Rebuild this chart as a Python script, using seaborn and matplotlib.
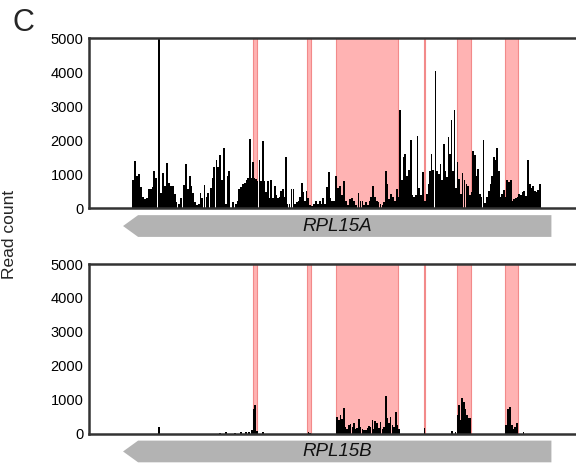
import matplotlib
matplotlib.use('Agg')
import matplotlib.pyplot as plt
import matplotlib.transforms as mtransforms
from matplotlib.patches import Polygon
import seaborn as sns

# Positions (relative coordinate along the locus) and read counts, RPL15A
pos_a = [44, 46, 48, 50, 52, 54, 56, 58, 60, 62, 63.5, 65, 67, 69.7, 71.7, 73.7, 75.7, 78, 79.7, 81.7,
         83.7, 85.7, 87, 89.7, 92, 94.7, 96.7, 98.7, 100.7, 102.3, 104, 105.7, 108, 109.7, 111.3, 113,
         115.3, 117.3, 119, 121.7, 123.3, 125, 127.3, 129, 131, 133, 134.7, 136.7, 138.3, 140, 144,
         146.5, 148.5, 150, 152, 154, 156, 157.7, 159, 161, 162.3, 163.7, 165, 166.7, 168.3, 170.3,
         171.7, 173.7, 175.3, 177, 178.7, 180, 182, 183.7, 185.7, 187, 188.7, 190.3, 192, 193.7, 195.3,
         196.7, 198.3, 200.3, 202.3, 204.3, 206, 207.7, 209.3, 211, 213, 214.3, 216, 217.3, 219, 221,
         223, 225, 226.3, 228.3, 230.3, 232, 233.7, 235.3, 237.7, 239.3, 241, 242.7, 244.5, 246.3,
         248.3, 250.3, 252.3, 254.7, 256.3, 258.3, 260.3, 262.3, 264.3, 266.3, 269, 271, 273, 274.7,
         276.3, 278.3, 280.3, 281.7, 283.7, 285.7, 287.3, 289, 291, 293, 294.7, 296.3, 298, 299.7,
         301.7, 303.7, 305.7, 307.3, 309, 310.7, 312.3, 314, 315.7, 317.7, 319.3, 321.3, 323, 324.7,
         326.3, 328, 329.7, 331.7, 333.7, 335.7, 337.7, 339, 340.3, 342, 343.7, 346, 347.7, 349.3, 351,
         352.7, 354.3, 356, 357.7, 359, 360.5, 362, 363.6, 365, 366.7, 368, 369.7, 371.3, 373, 375, 377,
         378.7, 380.3, 382, 383.7, 385.3, 387, 388.7, 390.3, 392, 394, 395.7, 397.7, 399.3, 401, 402.7,
         404.3, 406, 407.7, 409.3, 411, 412.7, 414.3, 416, 417.7, 419.3, 421, 422.7, 424.3, 426, 427.7,
         429.3, 431, 432.7, 434.3, 436, 438.3, 440, 441.7, 443.3, 445, 446.7, 448.3, 450]
reads_a = [830, 1370, 930, 1000, 610, 320, 260, 280, 570, 570, 630, 1080, 870, 5000, 440, 1030, 660, 1320,
           750, 660, 660, 420, 170, 120, 300, 680, 1300, 570, 950, 660, 450, 170, 80, 120, 440, 300, 680,
           330, 440, 590, 870, 1200, 1420, 1220, 1560, 810, 1770, 130, 950, 1100, 170, 120, 220, 570, 620,
           720, 750, 810, 870, 2030, 870, 1350, 870, 850, 800, 1400, 780, 1980, 780, 470, 780, 280, 810,
           280, 650, 380, 280, 330, 510, 570, 330, 1510, 130, 120, 570, 570, 120, 170, 220, 330, 750, 470,
           220, 510, 280, 80, 50, 120, 220, 120, 220, 120, 280, 120, 620, 1050, 280, 220, 200, 955, 590,
           650, 370, 790, 220, 80, 270, 300, 220, 100, 440, 220, 200, 80, 180, 100, 220, 320, 660, 320,
           220, 180, 120, 100, 180, 1080, 710, 270, 400, 320, 220, 560, 320, 2870, 810, 1510, 1590, 950,
           1120, 2000, 370, 320, 370, 2130, 590, 370, 1070, 220, 400, 710, 1100, 1590, 1130, 4040, 1100,
           1000, 1300, 810, 1890, 1100, 900, 2090, 1590, 2590, 1100, 2870, 600, 1350, 860, 420, 1030,
           810, 710, 660, 370, 470, 1670, 1570, 950, 1150, 420, 320, 2000, 150, 320, 500, 710, 950, 1490,
           1400, 1770, 1100, 320, 420, 540, 320, 810, 760, 810, 200, 260, 300, 320, 420, 370, 470, 500,
           340, 1400, 710, 600, 660, 500, 470, 540, 710]

# RPL15B
pos_b = [69.7, 131, 137, 146, 152, 157, 160, 163, 164.3, 166, 168, 173.7, 219.3, 221,
         247.7, 249.3, 251, 252.3, 254.3, 256, 257.7, 259.7, 261, 263, 264.3, 266.3, 267.7, 269.7,
         271, 273, 274.3, 276.3, 278.3, 279.7, 281, 283, 284.3, 285.7, 287.7, 289.3, 291, 293, 294.3,
         296.3, 297.7, 299.7, 301, 303, 304.3, 306.3, 307.7, 309.7, 335, 362.7, 366,
         368.3, 369.7, 371, 372.7, 374.3, 376, 377.7, 379.3, 381,
         416.7, 418.3, 420.3, 422, 423.7, 425.3, 427, 433.7]
reads_b = [180, 20, 30, 25, 30, 40, 30, 100, 730, 850, 60, 50, 50, 20,
           480, 390, 540, 420, 750, 180, 120, 250, 270, 180, 300, 120, 150, 420,
           180, 120, 100, 100, 150, 210, 180, 390, 120, 360, 300, 150, 330, 120, 180,
           1100, 450, 300, 480, 240, 180, 630, 240, 120, 150, 80, 50,
           540, 830, 390, 1060, 930, 730, 540, 450, 460,
           240, 730, 780, 240, 120, 180, 310, 50]

# shaded exon regions (start, end)
regions = [(163.3, 167.7), (217.7, 221.7), (247, 308.7), (334.3, 335.7), (367, 381.7), (415, 428.7)]
genes = ['RPL15A', 'RPL15B']
gene_start, gene_end = 34, 461.7
yticks = [0, 1000, 2000, 3000, 4000, 5000]

sns.set_style('white')
plt.rcParams['font.family'] = ['Liberation Sans', 'DejaVu Sans']

fig = plt.figure(figsize=(5.76, 4.70), dpi=100)
ax_top = fig.add_axes([89 / 576, 1 - 208 / 470, 1 - 89 / 576 + 0.01, 170 / 470])
ax_bot = fig.add_axes([89 / 576, 1 - 433.5 / 470, 1 - 89 / 576 + 0.01, 169.5 / 470])

for ax, pos, reads, gene in [(ax_top, pos_a, reads_a, genes[0]), (ax_bot, pos_b, reads_b, genes[1])]:
    for s, e in regions:
        ax.axvspan(s, e, facecolor='#FFB3B3', edgecolor='#F28A8A', lw=0.8, zorder=1)
    ax.bar(pos, reads, width=1.7, color='black', linewidth=0, zorder=2)
    ax.set_xlim(0, 492)
    ax.set_ylim(0, 5000)
    ax.set_yticks(yticks)
    ax.set_xticks([])
    ax.tick_params(axis='y', length=0, pad=4, labelsize=10.5, colors='black')
    for side in ['left', 'top', 'bottom']:
        ax.spines[side].set_color('#333333')
        ax.spines[side].set_linewidth(1.8)
    ax.spines['right'].set_visible(False)

    # gene arrow below the axes
    trans = mtransforms.blended_transform_factory(ax.transData, ax.transAxes)
    y_hi, y_lo = -0.042, -0.170
    y_mid = (y_hi + y_lo) / 2
    arrow = Polygon([(gene_start, y_mid), (gene_start + 15, y_hi), (gene_end, y_hi),
                     (gene_end, y_lo), (gene_start + 15, y_lo)],
                    closed=True, facecolor='#B3B3B3', edgecolor='none',
                    transform=trans, clip_on=False)
    ax.add_patch(arrow)
    ax.text(247.5, y_mid, gene, transform=trans, ha='center', va='center',
            fontsize=13.5, fontstyle='italic', color='#111111')

fig.text(10 / 576, 0.502, 'Read count', rotation=90, ha='center', va='center', fontsize=12.5)
fig.text(23 / 576, 1 - 23 / 470, 'C', ha='center', va='center', fontsize=22)

fig.savefig('out.png', dpi=100)
